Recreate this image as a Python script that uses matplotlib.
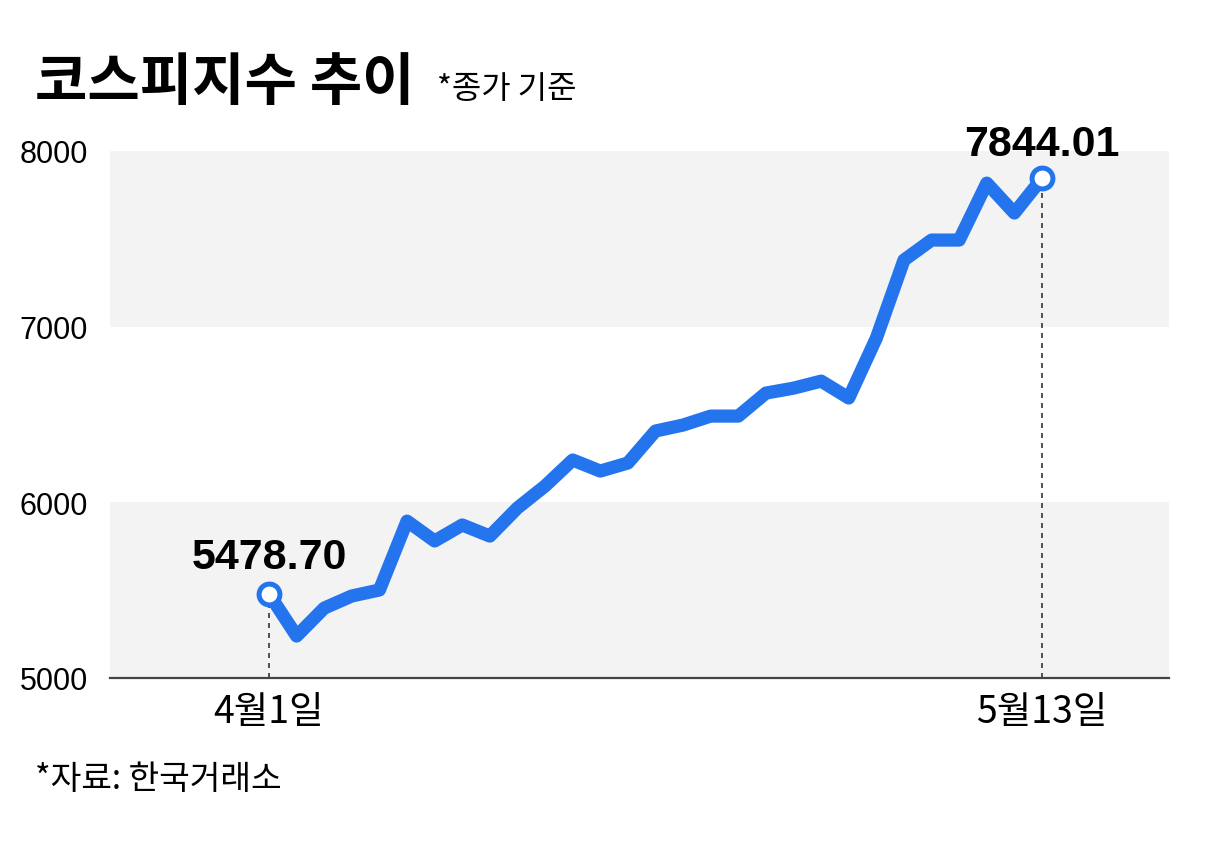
import matplotlib
matplotlib.use('Agg')
import matplotlib.pyplot as plt

# KOSPI closing index, 2026-04-01 .. 2026-05-13 (trading days)
kospi = [5478.70, 5239, 5398, 5467, 5501, 5893, 5780, 5871, 5808, 5968,
         6093, 6241, 6178, 6224, 6406, 6440, 6491, 6491, 6622, 6650,
         6690, 6594, 6935, 7379, 7493, 7493, 7817, 7647, 7844.01]
first_label = '4월1일'
last_label = '5월13일'
y_ticks = [5000, 6000, 7000, 8000]
bands = [(5000, 6000), (7000, 8000)]

BLUE = '#2474ee'
LAT = ['Liberation Sans', 'Noto Sans CJK KR', 'DejaVu Sans']
KR = ['Noto Sans CJK KR', 'DejaVu Sans']

plt.rcParams['font.family'] = KR

fig = plt.figure(figsize=(12.06, 8.62), dpi=100)
ax = fig.add_axes([110 / 1206, 1 - 679 / 862, 1059 / 1206, 527 / 862])

x = list(range(len(kospi)))
n = len(kospi) - 1
step = 773 / n
ax.set_xlim(-159 / step, n + 127 / step)
ax.set_ylim(5000, 8000)

for lo, hi in bands:
    ax.axhspan(lo, hi, color='#f3f3f3', lw=0, zorder=0)

ax.vlines([0, n], 5000, [kospi[0], kospi[-1]], colors='#333333',
          linestyles=(0, (3, 3)), lw=1.2, zorder=1)
ax.plot(x, kospi, color=BLUE, lw=9.5, solid_joinstyle='round',
        solid_capstyle='round', zorder=2)
ax.plot([0, n], [kospi[0], kospi[-1]], 'o', ms=15, mfc='white', mec=BLUE,
        mew=3.6, zorder=3)

ax.annotate('%.2f' % kospi[0], (0, kospi[0]), xytext=(0, 19),
            textcoords='offset points', ha='center', va='baseline',
            fontsize=31, fontweight='bold', family=LAT)
ax.annotate('%.2f' % kospi[-1], (n, kospi[-1]), xytext=(0, 17),
            textcoords='offset points', ha='center', va='baseline',
            fontsize=31, fontweight='bold', family=LAT)

ax.set_yticks(y_ticks)
ax.set_yticklabels([str(v) for v in y_ticks], family=LAT, fontsize=22)
ax.set_xticks([0, n])
ax.set_xticklabels([first_label, last_label], fontsize=27)
ax.tick_params(axis='both', length=0)
ax.tick_params(axis='y', pad=16)
ax.tick_params(axis='x', pad=10)

for s in ['top', 'right', 'left']:
    ax.spines[s].set_visible(False)
ax.spines['bottom'].set_color('#444444')
ax.spines['bottom'].set_linewidth(1.6)

fig.text(35 / 1206, 1 - 100 / 862, '코스피지수 추이', fontsize=41,
         fontweight='bold', ha='left', va='baseline')
fig.text(437 / 1206, 1 - 98 / 862, '*종가 기준', fontsize=23,
         ha='left', va='baseline')
fig.text(35 / 1206, 1 - 780 / 862, '*자료: 한국거래소', fontsize=24,
         ha='left', va='center')

fig.savefig('out.png', dpi=100, facecolor='white')
